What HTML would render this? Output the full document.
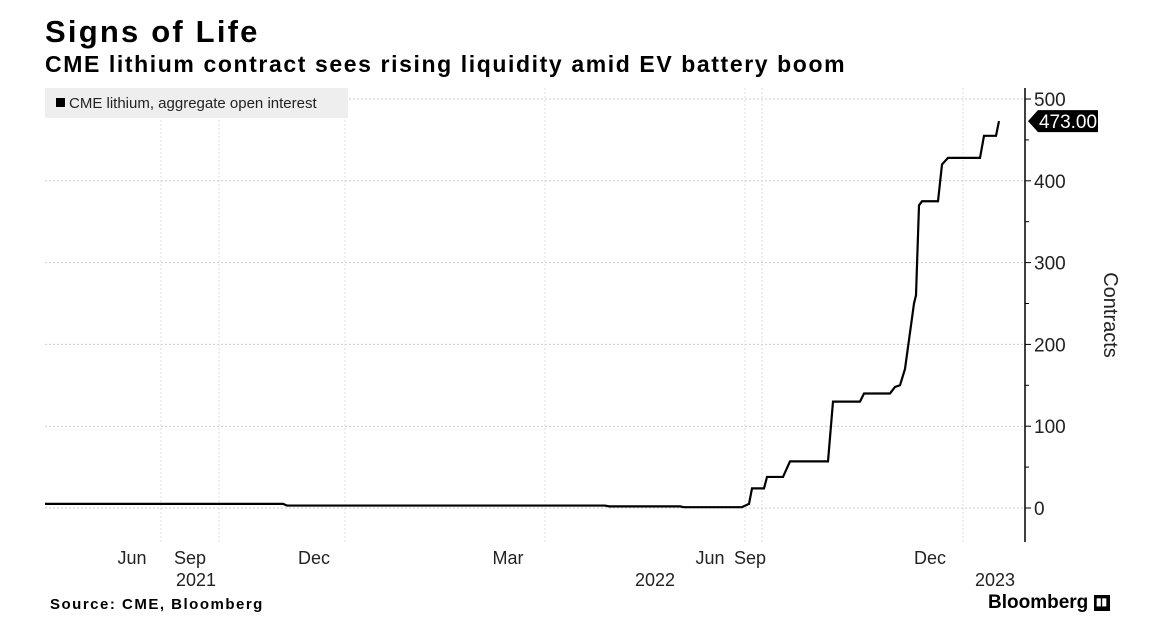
<!DOCTYPE html>
<html><head><meta charset="utf-8"><style>
body{margin:0;width:1170px;height:642px;background:#fff;font-family:"Liberation Sans",sans-serif;overflow:hidden;position:relative}
.t{position:absolute;white-space:nowrap}
</style></head><body>
<div class="t" style="left:45px;top:14px;font-size:31px;font-weight:bold;letter-spacing:2.2px">Signs of Life</div>
<div class="t" style="left:45px;top:51px;font-size:23px;font-weight:bold;letter-spacing:1.6px">CME lithium contract sees rising liquidity amid EV battery boom</div>
<div class="t" style="left:50px;top:596px;font-size:15px;font-weight:bold;letter-spacing:1.5px">Source: CME, Bloomberg</div>
<div class="t" style="left:988px;top:592px;font-size:19px;font-weight:bold">Bloomberg <span style="display:inline-block;width:16px;height:16px;background:#000;color:#fff;font-size:10px;vertical-align:middle;text-align:center;line-height:16px">▮▮</span></div>
<svg id="c" width="1170" height="642" style="position:absolute;left:0;top:0"></svg>
<script>
const days=[0,238,242,560,564,635,639,697,704,707,719,722,738,745,783,788,815,819,845,850,855,860,869,871,874,877,893,897,903,907,935,939,951,954];
const vals=[5,5,3,3,2,2,1,1,5,24,24,38,38,57,57,130,130,140,140,148,150,170,250,260,370,375,375,420,428,428,428,455,455,473];
const yTicks=[0,100,200,300,400,500];
const gridDays=[116,174,300,500,700,717,918];
const xLabels=[["Jun",132,558],["Sep",190,558],["2021",196,580],["Dec",314,558],["Mar",508,558],["2022",655,580],["Jun",710,558],["Sep",750,558],["Dec",930,558],["2023",995,580]];
const lastVal=473;
const svg=document.getElementById('c');const NS='http://www.w3.org/2000/svg';
const X=d=>45+d, Y=v=>508-v*0.818;
function mk(t,a,p){const e=document.createElementNS(NS,t);for(const k in a)e.setAttribute(k,a[k]);(p||svg).appendChild(e);return e;}
yTicks.forEach(v=>{const l=mk('line',{x1:45,x2:1025,y1:Y(v),y2:Y(v),stroke:'#ccc','stroke-dasharray':'2,2'});

const t=mk('text',{x:1034,y:Y(v)+7,'font-size':'19',fill:'#222'});t.textContent=v;

mk('line',{x1:1025,x2:1031,y1:Y(v),y2:Y(v),stroke:'#000'});});
for(let v=50;v<500;v+=100)mk('line',{x1:1025,x2:1029,y1:Y(v),y2:Y(v),stroke:'#000'});
gridDays.forEach(d=>{const l=mk('line',{x1:X(d),x2:X(d),y1:88,y2:542,stroke:'#ddd','stroke-dasharray':'2,2'});
});
xLabels.forEach(([s,x,y])=>{const t=mk('text',{x:x,y:y+6,'font-size':'18','text-anchor':'middle',fill:'#222'});t.textContent=s;
});
const ax=mk('line',{x1:1025,x2:1025,y1:88,y2:542,stroke:'#000','stroke-width':1.5});

let d='';days.forEach((x,i)=>{d+=(i?'L':'M')+X(x)+','+Y(vals[i]);});
const p=mk('path',{d:d,fill:'none',stroke:'#000','stroke-width':2.2});

const g=mk('g',{});
const ly=Y(lastVal);
mk('path',{d:`M1028,${ly} L1038,${ly-11} L1098,${ly-11} L1098,${ly+11} L1038,${ly+11}Z`,fill:'#000'},g);
const lt=mk('text',{x:1068,y:ly+7,'font-size':'19',fill:'#fff','text-anchor':'middle'},g);lt.textContent=lastVal.toFixed(2);
const yt=mk('text',{x:1104,y:315,'font-size':'20',fill:'#222','text-anchor':'middle',transform:'rotate(90 1104 315)'});yt.textContent='Contracts';

const lg=mk('g',{});
mk('rect',{x:45,y:88,width:303,height:30,fill:'#eee'},lg);
mk('rect',{x:56,y:98,width:9,height:9,fill:'#000'},lg);
const lt2=mk('text',{x:69,y:108,'font-size':'15',fill:'#222'},lg);lt2.textContent='CME lithium, aggregate open interest';
</script>
</body></html>
